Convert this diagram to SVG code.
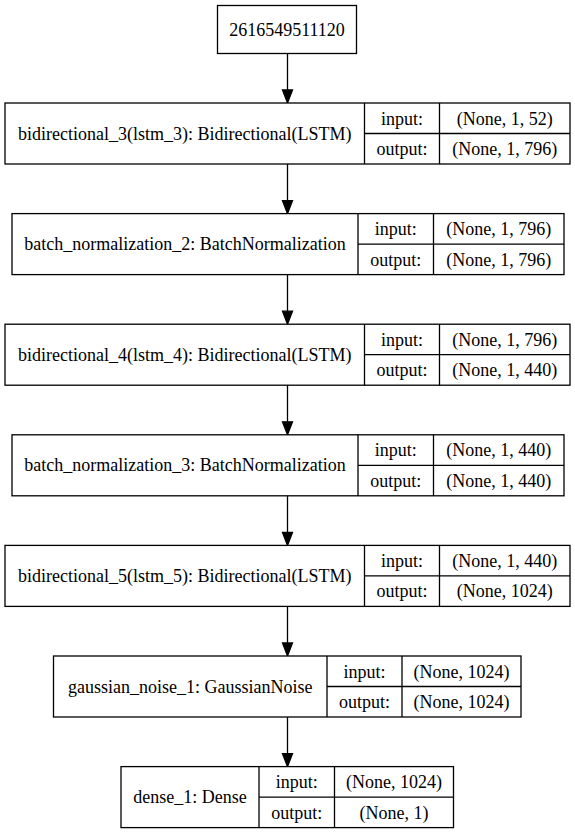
<svg xmlns="http://www.w3.org/2000/svg" width="575" height="835" viewBox="0 0 575 835">
<style>
rect{fill:#fff;stroke:#000;stroke-width:1.3}
.d{stroke:#000;stroke-width:1.3;fill:none}
text{font-family:'Liberation Serif','DejaVu Serif','Times New Roman',serif;font-size:18px;fill:#000;text-anchor:middle}
.e line{stroke:#000;stroke-width:1.3}
.e polygon{fill:#000;stroke:#000;stroke-width:1.3}
</style>
<rect x="0" y="0" width="575" height="835" style="stroke:none;fill:#fff"/>
<g id="connectors" class="e">
<line x1="287.5" y1="53.5" x2="287.5" y2="90"/><polygon points="282.5,90 292.5,90 287.5,103"/>
<line x1="287.5" y1="164" x2="287.5" y2="200.6"/><polygon points="282.5,200.6 292.5,200.6 287.5,213.6"/>
<line x1="287.5" y1="274.6" x2="287.5" y2="311.2"/><polygon points="282.5,311.2 292.5,311.2 287.5,324.2"/>
<line x1="287.5" y1="385.2" x2="287.5" y2="421.8"/><polygon points="282.5,421.8 292.5,421.8 287.5,434.8"/>
<line x1="287.5" y1="495.8" x2="287.5" y2="532.4"/><polygon points="282.5,532.4 292.5,532.4 287.5,545.4"/>
<line x1="287.5" y1="606.4" x2="287.5" y2="643"/><polygon points="282.5,643 292.5,643 287.5,656"/>
<line x1="287.5" y1="717" x2="287.5" y2="753.6"/><polygon points="282.5,753.6 292.5,753.6 287.5,766.6"/>
</g>
<g id="input_node">
<rect x="217.5" y="5.5" width="139" height="48"/>
<text x="287" y="36" font-family="Liberation Serif, DejaVu Serif, serif">2616549511120</text>
</g>
<g id="bidirectional_3">
<rect x="5" y="103" width="565" height="61"/>
<path class="d" d="M364.5 103V164M439.5 103V164M364.5 133.5H570"/>
<text x="184.7" y="139.5">bidirectional_3(lstm_3): Bidirectional(LSTM)</text>
<text x="402" y="124.5">input:</text>
<text x="504.7" y="124.5">(None, 1, 52)</text>
<text x="402" y="155">output:</text>
<text x="504.7" y="155">(None, 1, 796)</text>
</g>
<g id="batch_normalization_2">
<rect x="12" y="213.6" width="552" height="61"/>
<path class="d" d="M358 213.6V274.6M433.5 213.6V274.6M358 244.1H564"/>
<text x="185" y="250.1">batch_normalization_2: BatchNormalization</text>
<text x="395.7" y="235.1">input:</text>
<text x="498.7" y="235.1">(None, 1, 796)</text>
<text x="395.7" y="265.6">output:</text>
<text x="498.7" y="265.6">(None, 1, 796)</text>
</g>
<g id="bidirectional_4">
<rect x="5" y="324.2" width="565" height="61"/>
<path class="d" d="M364.5 324.2V385.2M439.5 324.2V385.2M364.5 354.7H570"/>
<text x="184.7" y="360.7">bidirectional_4(lstm_4): Bidirectional(LSTM)</text>
<text x="402" y="345.7">input:</text>
<text x="504.7" y="345.7">(None, 1, 796)</text>
<text x="402" y="376.2">output:</text>
<text x="504.7" y="376.2">(None, 1, 440)</text>
</g>
<g id="batch_normalization_3">
<rect x="12" y="434.8" width="552" height="61"/>
<path class="d" d="M358 434.8V495.8M433.5 434.8V495.8M358 465.3H564"/>
<text x="185" y="471.3">batch_normalization_3: BatchNormalization</text>
<text x="395.7" y="456.3">input:</text>
<text x="498.7" y="456.3">(None, 1, 440)</text>
<text x="395.7" y="486.8">output:</text>
<text x="498.7" y="486.8">(None, 1, 440)</text>
</g>
<g id="bidirectional_5">
<rect x="5" y="545.4" width="565" height="61"/>
<path class="d" d="M364.5 545.4V606.4M439.5 545.4V606.4M364.5 575.9H570"/>
<text x="184.7" y="581.9">bidirectional_5(lstm_5): Bidirectional(LSTM)</text>
<text x="402" y="566.9">input:</text>
<text x="504.7" y="566.9">(None, 1, 440)</text>
<text x="402" y="597.4">output:</text>
<text x="504.7" y="597.4">(None, 1024)</text>
</g>
<g id="gaussian_noise_1">
<rect x="53.5" y="656" width="467.5" height="61"/>
<path class="d" d="M327 656V717M402 656V717M327 686.5H521"/>
<text x="190.2" y="692.5">gaussian_noise_1: GaussianNoise</text>
<text x="364.5" y="677.5">input:</text>
<text x="461.5" y="677.5">(None, 1024)</text>
<text x="364.5" y="708">output:</text>
<text x="461.5" y="708">(None, 1024)</text>
</g>
<g id="dense_1">
<rect x="121" y="766.6" width="332.5" height="61"/>
<path class="d" d="M259 766.6V827.6M334.5 766.6V827.6M259 797.1H453.5"/>
<text x="190" y="803.1">dense_1: Dense</text>
<text x="296.7" y="788.1">input:</text>
<text x="394" y="788.1">(None, 1024)</text>
<text x="296.7" y="818.6">output:</text>
<text x="394" y="818.6">(None, 1)</text>
</g>
</svg>
